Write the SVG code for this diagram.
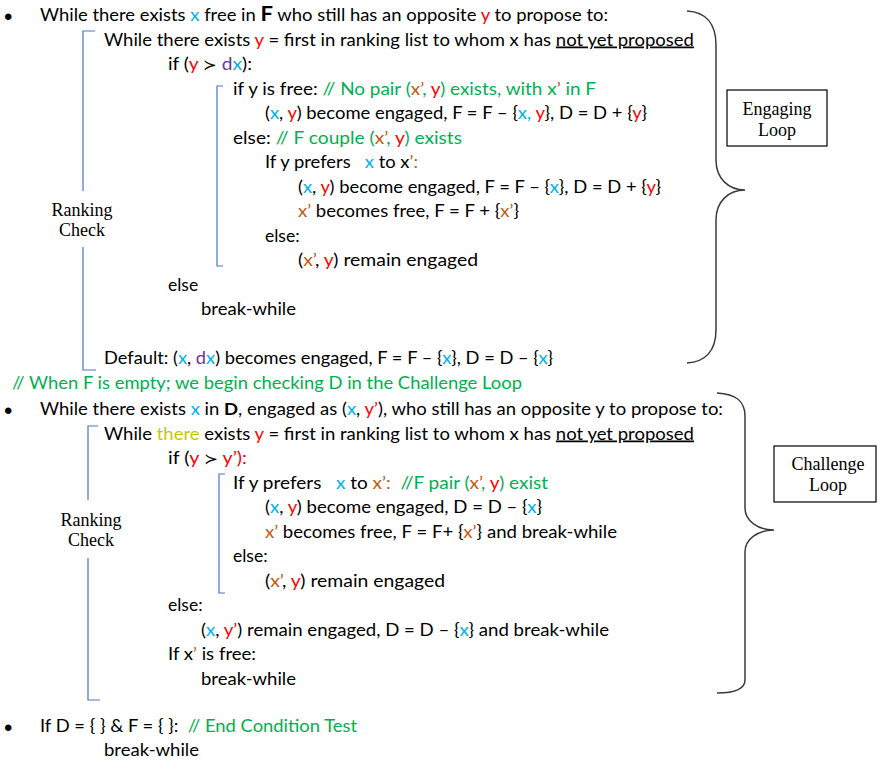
<svg xmlns="http://www.w3.org/2000/svg" width="880" height="760" viewBox="0 0 880 760">
<style>
.t{font-family:Lato,"Open Sans","Liberation Sans",sans-serif;font-size:17.5px;fill:#000}
.bu{font-family:"Liberation Sans",sans-serif;font-size:24px;fill:#000}
.b{fill:#00B0F0}.r{fill:#FF0000}.g{fill:#00B050}.o{fill:#C55A11}.p{fill:#7030A0}.yl{fill:#C8C800}
.bold{font-weight:bold}
.u{text-decoration:underline}
.sc{font-family:"DejaVu Sans",sans-serif;font-size:15px}
.s{font-family:"Liberation Serif","Times New Roman",serif;font-size:18px;text-anchor:middle;fill:#000}
.br{stroke:#4A76C6;stroke-width:1.2;fill:none}
.cb{stroke:#3A3A3A;stroke-width:1.5;fill:none}
.box{fill:#fff;stroke:#000;stroke-width:1.2}
</style>
<rect width="880" height="760" fill="#fff"/>

<g id="engaging-block">
<text class="bu" x="4" y="25">•</text>
<text class="t" x="40" y="21" textLength="568" lengthAdjust="spacingAndGlyphs">While there exists <tspan class="b">x</tspan> free in <tspan class="bold" style="font-size:21px">F</tspan> who still has an opposite <tspan class="r">y</tspan> to propose to:</text>
<text class="t" x="104" y="45.5" textLength="590" lengthAdjust="spacingAndGlyphs">While there exists <tspan class="r">y</tspan> = first in ranking list to whom x has <tspan class="u">not yet proposed</tspan></text>
<text class="t" x="168" y="70" textLength="84" lengthAdjust="spacingAndGlyphs">if (<tspan class="r">y</tspan> <tspan class="sc">≻</tspan> <tspan class="p">d</tspan><tspan class="b">x</tspan>):</text>
<text class="t" x="233" y="94.5" textLength="363" lengthAdjust="spacingAndGlyphs">if y is free: <tspan class="g">// No pair (</tspan><tspan class="o">x’</tspan><tspan class="g">, </tspan><tspan class="r">y</tspan><tspan class="g">) exists, with x</tspan><tspan class="o">’</tspan><tspan class="g"> in F</tspan></text>
<text class="t" x="265" y="119" textLength="382" lengthAdjust="spacingAndGlyphs">(<tspan class="b">x</tspan>, <tspan class="r">y</tspan>) become engaged, F = F – {<tspan class="b">x, </tspan><tspan class="r">y</tspan>}, D = D + {<tspan class="r">y</tspan>}</text>
<text class="t" x="233" y="143.5" textLength="229" lengthAdjust="spacingAndGlyphs">else: <tspan class="g">// F couple (</tspan><tspan class="o">x’</tspan><tspan class="g">, </tspan><tspan class="r">y</tspan><tspan class="g">) exists</tspan></text>
<text class="t" x="265" y="168" xml:space="preserve" textLength="153" lengthAdjust="spacingAndGlyphs">If y prefers   <tspan class="b">x</tspan> to x<tspan class="o">’:</tspan></text>
<text class="t" x="298" y="192.5" textLength="363" lengthAdjust="spacingAndGlyphs">(<tspan class="b">x</tspan>, <tspan class="r">y</tspan>) become engaged, F = F – {<tspan class="b">x</tspan>}, D = D + {<tspan class="r">y</tspan>}</text>
<text class="t" x="298" y="217" textLength="221" lengthAdjust="spacingAndGlyphs"><tspan class="o">x’</tspan> becomes free, F = F + {<tspan class="o">x’</tspan>}</text>
<text class="t" x="265" y="241.5">else:</text>
<text class="t" x="298" y="266" textLength="180" lengthAdjust="spacingAndGlyphs">(<tspan class="o">x’</tspan>, <tspan class="r">y</tspan>) remain engaged</text>
<text class="t" x="168" y="290.5">else</text>
<text class="t" x="201" y="315" textLength="95" lengthAdjust="spacingAndGlyphs">break-while</text>
<text class="t" x="104" y="364" textLength="449" lengthAdjust="spacingAndGlyphs">Default: (<tspan class="b">x</tspan>, <tspan class="p">d</tspan><tspan class="b">x</tspan>) becomes engaged, F = F – {<tspan class="b">x</tspan>}, D = D – {<tspan class="b">x</tspan>}</text>
</g>

<g id="transition-comment">
<text class="t g" x="12" y="388.5" textLength="510" lengthAdjust="spacingAndGlyphs">// When F is empty; we begin checking D in the Challenge Loop</text>
</g>

<g id="challenge-block">
<text class="bu" x="4" y="419">•</text>
<text class="t" x="40" y="415" textLength="683" lengthAdjust="spacingAndGlyphs">While there exists <tspan class="b">x</tspan> in <tspan class="bold">D</tspan>, engaged as (<tspan class="b">x</tspan>, <tspan class="r">y’</tspan>), who still has an opposite y to propose to:</text>
<text class="t" x="104" y="439.5" textLength="590" lengthAdjust="spacingAndGlyphs">While <tspan class="yl">there</tspan> exists <tspan class="r">y</tspan> = first in ranking list to whom x has <tspan class="u">not yet proposed</tspan></text>
<text class="t" x="168" y="464" textLength="79" lengthAdjust="spacingAndGlyphs">if (<tspan class="r">y</tspan> <tspan class="sc">≻</tspan> <tspan class="r">y’):</tspan></text>
<text class="t" x="233" y="488.5" xml:space="preserve" textLength="315" lengthAdjust="spacingAndGlyphs">If y prefers   <tspan class="b">x</tspan> to <tspan class="o">x’:</tspan>  <tspan class="g">//F pair (</tspan><tspan class="o">x’</tspan><tspan class="g">, </tspan><tspan class="r">y</tspan><tspan class="g">) exist</tspan></text>
<text class="t" x="265" y="513" textLength="277" lengthAdjust="spacingAndGlyphs">(<tspan class="b">x</tspan>, <tspan class="r">y</tspan>) become engaged, D = D – {<tspan class="b">x</tspan>}</text>
<text class="t" x="265" y="537.5" textLength="352" lengthAdjust="spacingAndGlyphs"><tspan class="o">x’</tspan> becomes free, F = F+ {<tspan class="o">x’</tspan>} and break-while</text>
<text class="t" x="233" y="562">else:</text>
<text class="t" x="265" y="586.5" textLength="180" lengthAdjust="spacingAndGlyphs">(<tspan class="o">x’</tspan>, <tspan class="r">y</tspan>) remain engaged</text>
<text class="t" x="168" y="611">else:</text>
<text class="t" x="201" y="635.5" textLength="408" lengthAdjust="spacingAndGlyphs">(<tspan class="b">x</tspan>, <tspan class="r">y’</tspan>) remain engaged, D = D – {<tspan class="b">x</tspan>} and break-while</text>
<text class="t" x="168" y="660" textLength="88" lengthAdjust="spacingAndGlyphs">If x<tspan class="o">’</tspan> is free:</text>
<text class="t" x="201" y="684.5" textLength="95" lengthAdjust="spacingAndGlyphs">break-while</text>
</g>

<g id="end-condition">
<text class="bu" x="4" y="736">•</text>
<text class="t" x="40" y="732" xml:space="preserve" textLength="317" lengthAdjust="spacingAndGlyphs">If D = { } &amp; F = { }:  <tspan class="g">// End Condition Test</tspan></text>
<text class="t" x="104" y="756" textLength="95" lengthAdjust="spacingAndGlyphs">break-while</text>
</g>

<g id="ranking-check-1">
<text class="s" x="82" y="216">Ranking</text>
<text class="s" x="82" y="236">Check</text>
</g>
<g id="ranking-check-2">
<text class="s" x="91" y="526">Ranking</text>
<text class="s" x="91" y="546">Check</text>
</g>

<g id="engaging-loop-label">
<rect class="box" x="727" y="90" width="100" height="56"/>
<text class="s" x="777" y="115">Engaging</text>
<text class="s" x="777" y="136">Loop</text>
</g>

<g id="challenge-loop-label">
<rect class="box" x="774" y="446" width="102" height="56"/>
<text class="s" x="828" y="470">Challenge</text>
<text class="s" x="828" y="491">Loop</text>
</g>

<g id="connectors">
<path class="br" d="M95,31 H83 V191 M83,247 V370 H96"/>
<path class="br" d="M223,86 H217 V266 H223"/>
<path class="br" d="M98,426 H88 V500 M88,558 V700 H100"/>
<path class="br" d="M225,474 H219 V593 H225"/>
<path class="cb" d="M687,11 C706,12 716,24 716,45 L716,160 C716,179 729,190 745,190 C729,190 716,201 716,220 L716,330 C716,350 706,362 687,363"/>
<path class="cb" d="M717,393 C736,394 745,401 745,416 L745,508 C745,521 758,530 774,530 C758,530 745,539 745,552 L745,680 C745,689 736,693 717,693"/>
</g>
</svg>
